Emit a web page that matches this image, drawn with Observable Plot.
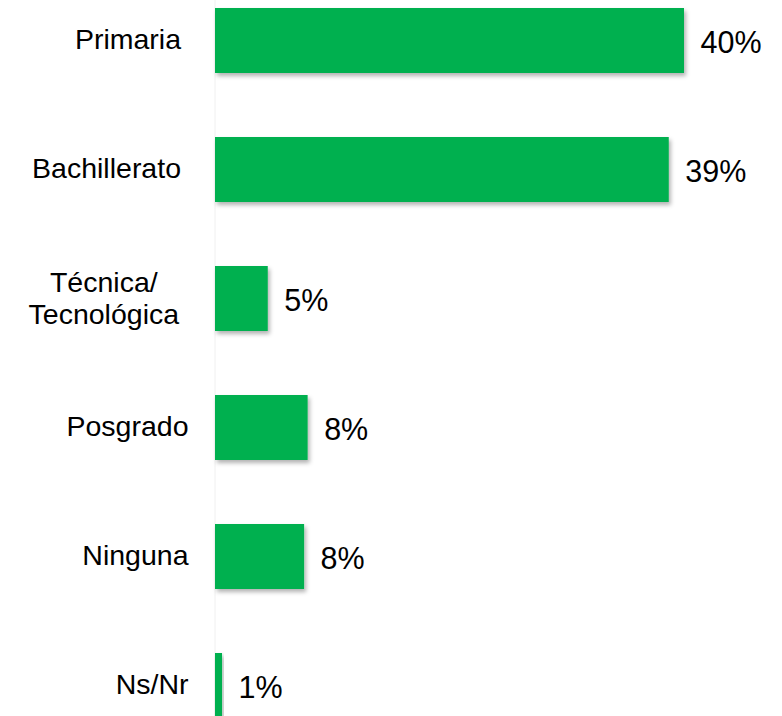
<!DOCTYPE html>
<html>
<head>
<meta charset="utf-8">
<script src="https://cdn.jsdelivr.net/npm/d3@7"></script>
<script src="https://cdn.jsdelivr.net/npm/@observablehq/plot@0.6"></script>
<style>
  html, body { margin: 0; padding: 0; background: #fff; overflow: hidden; }
  #chart svg { overflow: hidden; }
</style>
</head>
<body>
<div id="chart"></div>
<script>
const categories = ["Primaria", "Bachillerato", "Técnica/\nTecnológica", "Posgrado", "Ninguna", "Ns/Nr"];
const values = [40, 38.7, 4.5, 7.9, 7.6, 0.6];
const valueLabels = ["40%", "39%", "5%", "8%", "8%", "1%"];

const data = categories.map((c, i) => ({cat: c, value: values[i], label: valueLabels[i]}));
const groupA = ["Primaria", "Bachillerato"];
const groupB = ["Posgrado", "Ninguna", "Ns/Nr"];
const groupC = ["Técnica/\nTecnológica"];

const font = "'Liberation Sans', Arial, sans-serif";

const chart = Plot.plot({
  width: 782,
  height: 716,
  marginLeft: 215,
  marginRight: 98,
  marginTop: 0,
  marginBottom: 0,
  style: {fontFamily: font, background: "#fff", overflow: "hidden"},
  x: {domain: [0, 40], axis: null},
  y: {domain: categories, range: [6, 718.8], paddingInner: 0.5, paddingOuter: 0, axis: null},
  marks: [
    Plot.ruleX([0], {stroke: "#f0f0f0", strokeWidth: 1, dx: -0.5}),
    Plot.barX(data, {x: "value", y: "cat", fill: "#00B050", className: "bars"}),
    Plot.text(data, {x: "value", y: "cat", text: "label", textAnchor: "start", dx: 16, dy: 2, fontSize: 30.5, fill: "#000"}),
    Plot.text(data.filter(d => groupA.includes(d.cat)), {x: () => 0, y: "cat", text: "cat", textAnchor: "end", dx: -34.5, dy: -1, fontSize: 28.5, fill: "#000"}),
    Plot.text(data.filter(d => groupB.includes(d.cat)), {x: () => 0, y: "cat", text: "cat", textAnchor: "end", dx: -27, dy: -1, fontSize: 28.5, fill: "#000"}),
    Plot.text(data.filter(d => groupC.includes(d.cat)), {x: () => 0, y: "cat", text: "cat", textAnchor: "middle", dx: -111.7, dy: -1, fontSize: 28.5, lineHeight: 1.11, fill: "#000"})
  ]
});

// subtle drop shadow under bars
const svg = d3.select(chart);
const defs = svg.insert("defs", ":first-child");
const f = defs.append("filter").attr("id", "barShadow").attr("x", "-10%").attr("y", "-10%").attr("width", "130%").attr("height", "150%");
f.append("feDropShadow").attr("dx", 2).attr("dy", 3).attr("stdDeviation", 2).attr("flood-color", "#000").attr("flood-opacity", 0.3);
svg.selectAll("g.bars rect, .bars rect").attr("filter", "url(#barShadow)");

document.getElementById("chart").appendChild(chart);
</script>
</body>
</html>
